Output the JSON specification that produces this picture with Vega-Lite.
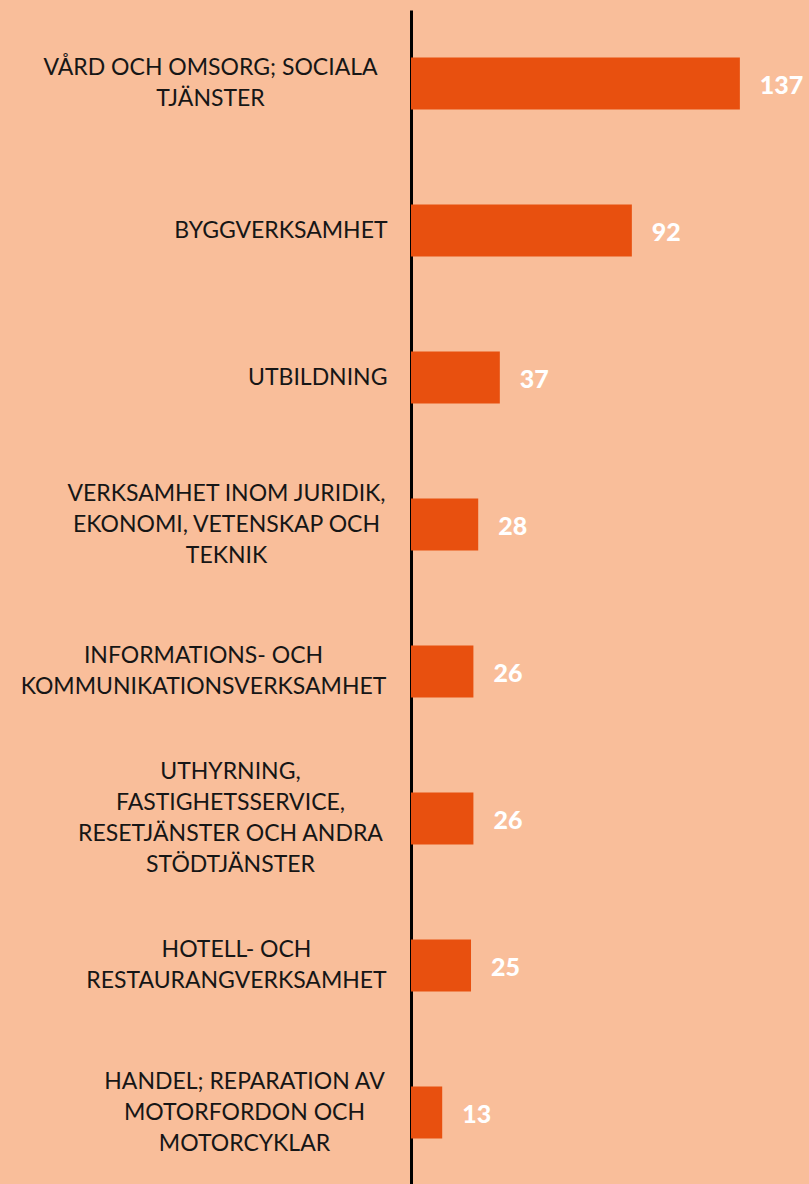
{
  "$schema": "https://vega.github.io/schema/vega-lite/v6.json",
  "autosize": {"type": "none"},
  "padding": {"left": 411, "top": 10, "right": 0, "bottom": 0},
  "width": 398,
  "height": 1176,
  "background": "#F9BE9A",
  "config": {"view": {"stroke": null}, "font": "Lato"},
  "data": {"values": [
    {"branch": "VÅRD OCH OMSORG; SOCIALA|TJÄNSTER", "antal": 137, "ordning": 1},
    {"branch": "BYGGVERKSAMHET", "antal": 92, "ordning": 2},
    {"branch": "UTBILDNING", "antal": 37, "ordning": 3},
    {"branch": "VERKSAMHET INOM JURIDIK,|EKONOMI, VETENSKAP OCH|TEKNIK", "antal": 28, "ordning": 4},
    {"branch": "INFORMATIONS- OCH|KOMMUNIKATIONSVERKSAMHET", "antal": 26, "ordning": 5},
    {"branch": "UTHYRNING,|FASTIGHETSSERVICE,|RESETJÄNSTER OCH ANDRA|STÖDTJÄNSTER", "antal": 26, "ordning": 6},
    {"branch": "HOTELL- OCH|RESTAURANGVERKSAMHET", "antal": 25, "ordning": 7},
    {"branch": "HANDEL; REPARATION AV|MOTORFORDON OCH|MOTORCYKLAR", "antal": 13, "ordning": 8}
  ]},
  "encoding": {
    "y": {
      "field": "branch", "type": "nominal",
      "sort": {"field": "ordning", "order": "ascending"},
      "scale": {"paddingInner": 0.646, "paddingOuter": 0.323},
      "axis": {
        "title": null, "ticks": false,
        "domainColor": "#000000", "domainWidth": 3,
        "labelExpr": "split(datum.label, '|')",
        "labelFont": "Lato", "labelFontSize": 23, "labelColor": "#161616",
        "labelLineHeight": 31, "labelBaseline": "middle",
        "labelLimit": 420,
        "labelAlign": {
          "condition": {"test": "indexof(datum.value, '|') >= 0", "value": "center"},
          "value": "right"
        },
        "labelPadding": {
          "condition": [
            {"test": "indexof(datum.value, 'VÅRD') == 0", "value": 201},
            {"test": "indexof(datum.value, 'VERKSAMHET INOM') == 0", "value": 185},
            {"test": "indexof(datum.value, 'INFORMATIONS') == 0", "value": 208},
            {"test": "indexof(datum.value, 'UTHYRNING') == 0", "value": 181},
            {"test": "indexof(datum.value, 'HOTELL') == 0", "value": 175},
            {"test": "indexof(datum.value, 'HANDEL') == 0", "value": 167}
          ],
          "value": 24
        },
        "labelOffset": {
          "condition": [
            {"test": "length(split(datum.value, '|')) == 2", "value": -15.5},
            {"test": "length(split(datum.value, '|')) == 3", "value": -31},
            {"test": "length(split(datum.value, '|')) == 4", "value": -46.5}
          ],
          "value": 0
        }
      }
    },
    "x": {
      "field": "antal", "type": "quantitative",
      "scale": {"domain": [0, 165.8], "nice": false},
      "axis": null
    }
  },
  "layer": [
    {"mark": {"type": "bar", "color": "#E8500F"}},
    {"mark": {"type": "text", "align": "left", "baseline": "middle", "dx": 20, "dy": 2,
              "color": "#FFFFFF", "fontWeight": 900, "fontSize": 25, "font": "Lato"},
     "encoding": {"text": {"field": "antal", "type": "quantitative"}}}
  ]
}
